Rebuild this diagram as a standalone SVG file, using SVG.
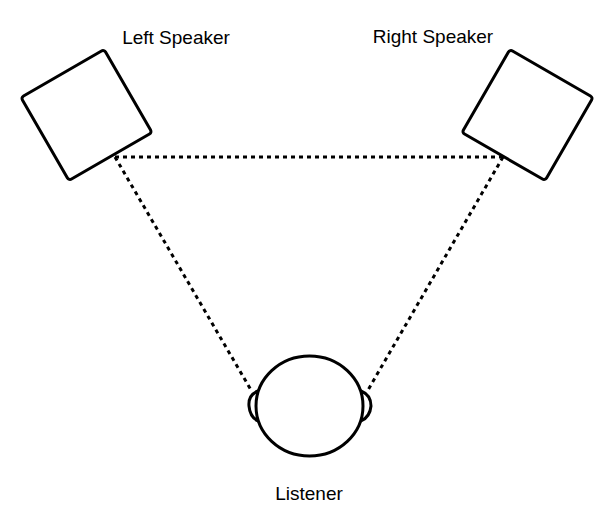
<svg xmlns="http://www.w3.org/2000/svg" width="601" height="513" viewBox="0 0 601 513">
<style>
.s{fill:#fff;stroke:#000;stroke-width:3;stroke-linejoin:round}
.d{fill:none;stroke:#000;stroke-width:3;stroke-dasharray:4 4}
text{font-family:"Liberation Sans",Arial,sans-serif;font-size:19px;fill:#000;text-anchor:middle}
</style>
<rect width="601" height="513" fill="#fff"/>
<g id="connectors">
<line class="d" x1="115" y1="157" x2="503" y2="157"/>
<line class="d" x1="115" y1="157" x2="251" y2="390"/>
<line class="d" x1="503" y1="157" x2="368" y2="390"/>
</g>
<g id="left-speaker">
<rect class="s" x="38.5" y="67" width="96" height="96" rx="3" transform="rotate(-30 86.5 115)"/>
<text x="176" y="44">Left Speaker</text>
</g>
<g id="right-speaker">
<rect class="s" x="479.5" y="67" width="96" height="96" rx="3" transform="rotate(30 527.5 115)"/>
<text x="433" y="43">Right Speaker</text>
</g>
<g id="listener">
<path class="s" d="M258 391 Q248 395 249 406 Q250 417 258 421 Z"/>
<path class="s" d="M361 391 Q371 395 371 406 Q370 417 361 421 Z"/>
<ellipse class="s" cx="309.5" cy="406" rx="53.5" ry="50"/>
<text x="309" y="500">Listener</text>
</g>
</svg>
